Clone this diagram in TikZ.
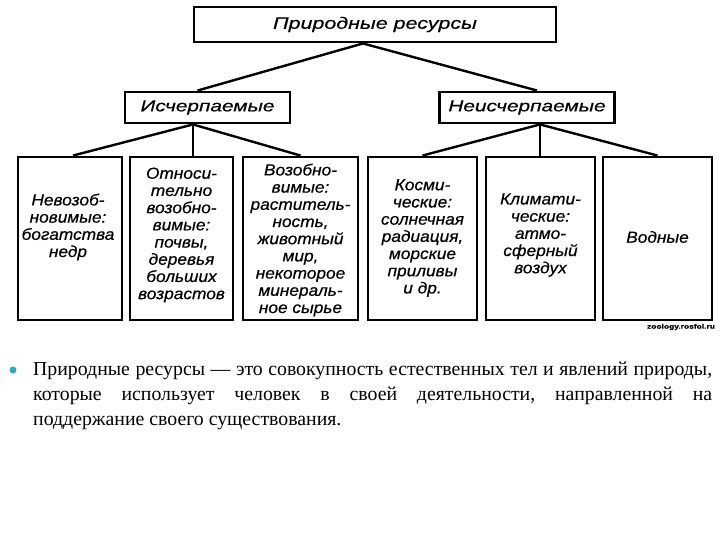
\documentclass[tikz,border=0pt]{standalone}
\usepackage{fontspec}
\setmainfont{Liberation Serif}
\newfontfamily\dsf[FakeStretch=1.3,FakeBold=0.5]{Liberation Sans}
\newfontfamily\dsfb[FakeStretch=1.08,FakeBold=0.5]{Liberation Sans}
\usetikzlibrary{calc}
\definecolor{bul}{RGB}{40,170,205}
\frenchspacing
\begin{document}
\begin{tikzpicture}[x=1pt,y=-1pt,
  box/.style={draw=black, line width=2.9pt, inner sep=0pt},
  lab/.style={align=center, inner sep=0pt, font=\dsfb\itshape\fontsize{16}{17.2}\selectfont},
  conn/.style={line width=2.4pt},
  para/.style={anchor=base west, inner sep=0pt, font=\fontsize{19.8}{25}\selectfont}]
\useasboundingbox[fill=white] (0,0) rectangle (720,540);
% top and middle boxes
\node[box, minimum width=362pt, minimum height=35pt, font=\dsf\itshape\fontsize{16.5}{18}\selectfont] (top) at (375,24.5) {Природные ресурсы};
\node[box, minimum width=165pt, minimum height=31pt, font=\dsf\itshape\fontsize{16}{18}\selectfont] (ml) at (207.5,107.5) {Исчерпаемые};
\node[box, minimum width=175pt, minimum height=31pt, font=\dsf\itshape\fontsize{16}{18}\selectfont] (mr) at (527,107.5) {Неисчерпаемые};
% bottom boxes
\node[box, minimum width=104pt, minimum height=163pt] (b1) at (70,238.5) {};
\node[box, minimum width=103pt, minimum height=163pt] (b2) at (181.5,238.5) {};
\node[box, minimum width=115pt, minimum height=163pt] (b3) at (300.5,238.5) {};
\node[box, minimum width=109pt, minimum height=163pt] (b4) at (422.5,238.5) {};
\node[box, minimum width=109pt, minimum height=163pt] (b5) at (540.5,238.5) {};
\node[box, minimum width=109pt, minimum height=163pt] (b6) at (657.5,238.5) {};
% texts
\node[lab] (t1) at (68,227) {Невозоб-\\новимые:\\богатства\\недр};
\node[lab] (t2) at (181.5,235) {Относи-\\тельно\\возобно-\\вимые:\\почвы,\\деревья\\больших\\возрастов};
\node[lab] (t3) at (300.5,240) {Возобно-\\вимые:\\раститель-\\ность,\\животный\\мир,\\некоторое\\минераль-\\ное сырье};
\node[lab] (t4) at (422.5,238) {Косми-\\ческие:\\солнечная\\радиация,\\морские\\приливы\\и др.};
\node[lab] (t5) at (540.5,235) {Климати-\\ческие:\\атмо-\\сферный\\воздух};
\node[lab] (t6) at (657.5,237) {Водные};
% connectors
\coordinate (topS) at ([xshift=-12pt]top.south);
\draw[conn] (topS) -- ([xshift=-10pt]ml.north);
\draw[conn] (topS) -- ([xshift=10pt]mr.north);
\coordinate (mlS) at ([xshift=-14.5pt]ml.south);
\draw[conn] (mlS) -- ([xshift=3pt]b1.north);
\draw[conn] (mlS) -- (mlS |- b2.north);
\draw[conn] (mlS) -- (b3.north);
\coordinate (mrS) at ([xshift=13pt]mr.south);
\draw[conn] (mrS) -- (b4.north);
\draw[conn] (mrS) -- (mrS |- b5.north);
\draw[conn] (mrS) -- (b6.north);
% watermark
\node[inner sep=0pt, font=\dsf\bfseries\fontsize{6.5}{7}\selectfont] (wm) at (681,327) {zoology.rosfol.ru};
% bullet paragraph
\fill[bul] (13,370) circle (3.5pt);
\node[para] (l1) at (33,375) {\makebox[679pt][s]{Природные ресурсы — это совокупность естественных тел и явлений природы,}};
\node[para] (l2) at (33,400) {\makebox[679pt][s]{которые использует человек в своей деятельности, направленной на}};
\node[para] (l3) at (33,425) {поддержание своего существования.};
\end{tikzpicture}
\end{document}
